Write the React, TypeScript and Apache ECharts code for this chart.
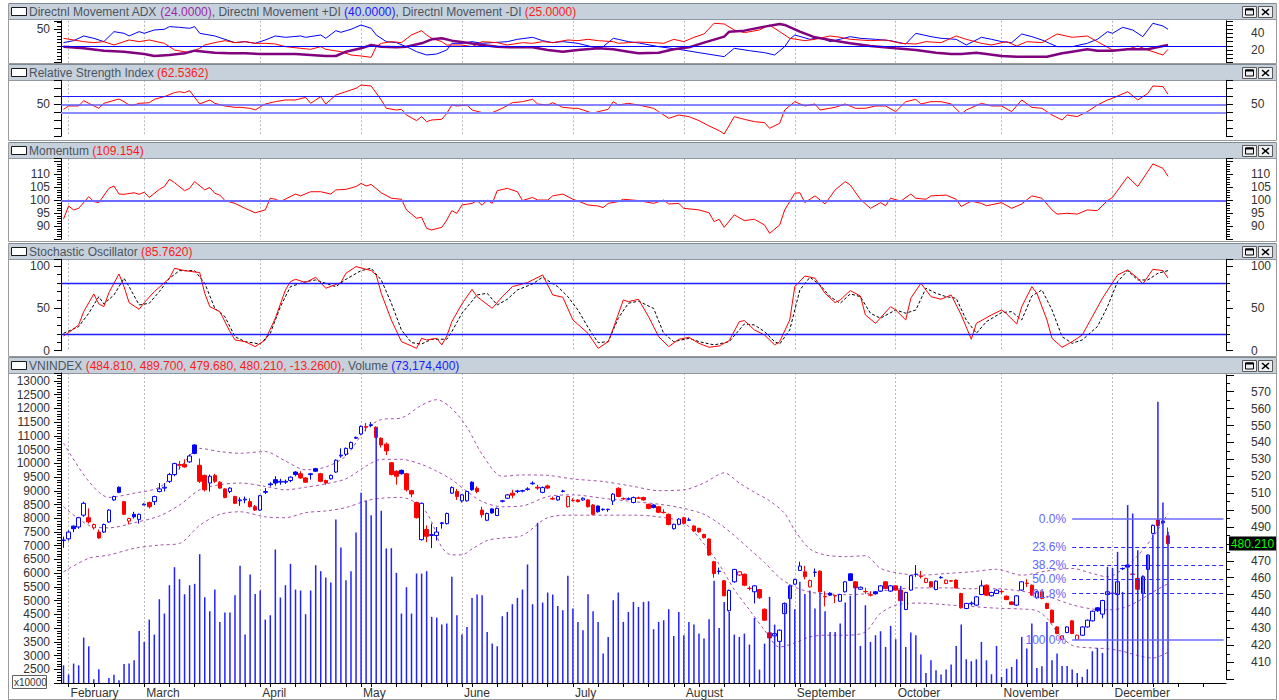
import React, { useEffect, useRef } from 'react';
import * as echarts from 'echarts';

const FONT = 'Liberation Sans, Arial, sans-serif';
const BLUE = '#0000ff';
const RED = '#ff0000';

const monthNames = ['January', 'February', 'March', 'April', 'May', 'June', 'July', 'August', 'September', 'October', 'November', 'December'];
const monthDays = [1, 15, 23, 20, 20, 22, 22, 22, 20, 21, 22, 12];
const padDays = 11;

const opens = [482, 483, 490.5, 490, 497, 495.5, 489.5, 487, 487, 493,
  506, 513.5, 505, 493.5, 497.5, 494.5, 503, 504.5, 505, 511,
  513, 517, 521, 527, 527, 528.5, 538.5, 526.5, 520.5, 516,
  520.5, 516.5, 512.5, 511, 508, 505.5, 506, 505, 502, 500,
  510.5, 515, 518, 516.5, 516.5, 517.5, 522.5, 521.5, 519, 521,
  524.5, 521.5, 517.5, 518.5, 522.5, 532, 533, 536.5, 542.5, 545,
  549.5, 550, 549, 542.5, 539, 528, 523, 523.5, 521.5, 511.5,
  504.5, 482.5, 488.5, 485, 485, 492, 492, 510, 511, 505.5,
  505.5, 516.5, 512.9, 500, 494, 500.7, 496.8, 505.2, 507, 510,
  511, 511.2, 512.2, 515.6, 513.5, 510.5, 514.3, 506.8, 506, 511,
  502, 505.8, 506, 506, 506, 503, 502.4, 500.5, 500.3, 505.4,
  512.9, 506.8, 506.5, 504.5, 507.2, 507.4, 503.4, 503, 502, 498.7,
  497.5, 489, 491.6, 495.5, 494, 490.6, 489.2, 485.6, 482.9, 469.5,
  463.7, 458.2, 440.5, 457.6, 461.6, 462.1, 453.8, 451.7, 453, 441.4,
  427.4, 425.6, 422.4, 438.8, 447.7, 456.2, 464.3, 463.5, 454.6, 463.2,
  463.9, 448.9, 450.9, 449.5, 446.1, 451.7, 462.3, 457.6, 453.2, 451.9,
  449.9, 451.7, 452.1, 457.6, 452.1, 455.2, 452.7, 441.2, 452.7, 462,
  461, 457.2, 457.6, 453, 460, 456.6, 458.2, 458.6, 450.7, 441.8,
  444.6, 443.8, 450.1, 455.6, 449.3, 450.7, 451.9, 449.1, 445.7, 443.8,
  452.7, 456.8, 455.6, 448.1, 451.7, 444.8, 440.8, 430.9, 423.6, 427.6,
  434.5, 423.4, 426, 430.9, 434.5, 442.2, 438.5, 450.1, 450.9, 450.1,
  465.3, 467.5, 462.2, 459.6, 450.7, 464.9, 486.2, 494.2, 492.5, 484.81];

const closes = [482.3, 487, 489, 495.5, 504, 493, 491.5, 483.5, 491.5, 500,
  508, 510.5, 497.5, 495, 496, 497.5, 503.5, 502, 508, 512.5,
  513.5, 521, 527.5, 526.5, 525.5, 532, 533.5, 517, 512, 520,
  517, 513, 507.5, 513, 504, 506, 506.5, 502, 500, 508.5,
  511, 515.5, 516, 517, 517, 519.5, 521, 519, 516.5, 521.5,
  523, 517, 516, 520.5, 529.5, 532.5, 536.5, 540, 543, 549.5,
  549, 550.5, 543, 538.5, 535, 521, 520, 521.5, 512, 509.5,
  495.5, 504, 484.5, 485.5, 487, 492.5, 498, 513.3, 508, 509,
  511, 512, 511, 497.2, 498, 498.3, 501, 505.5, 509, 508.8,
  511.3, 511.5, 512.5, 515.9, 513, 513.3, 513, 506.5, 508, 511.3,
  508, 505.6, 505, 507, 502, 497.5, 499, 500.3, 500.5, 509.4,
  508, 506.6, 506.6, 507.4, 507, 506, 501, 501.5, 498.7, 498.5,
  491.5, 491.6, 494.7, 492.2, 494.2, 487.6, 487.2, 483.7, 473.4, 462.5,
  463.9, 449.3, 452.5, 464.9, 463.5, 455.6, 453.6, 455.2, 448.1, 434.9,
  424.4, 427, 429, 444.8, 455.2, 459, 466.9, 460.6, 458.4, 463.3,
  451.7, 448.7, 449.7, 449.3, 450.1, 457.6, 458.4, 454, 454.4, 451.7,
  449.7, 450.5, 455.2, 453.6, 455.2, 452.7, 446.4, 451.3, 461.2, 462.1,
  460.8, 459.6, 454.6, 458, 460.2, 458.6, 458, 454, 442.2, 444.8,
  445, 448.7, 455.2, 449.7, 451.3, 452.7, 451.7, 447.1, 444.2, 449.3,
  457.6, 456.6, 449.7, 451.7, 447.7, 441.8, 433.5, 427, 425.6, 430.9,
  427, 426, 430.9, 434.9, 440.2, 440.5, 446.5, 451.7, 450.7, 457.6,
  465.5, 466.3, 462, 453.2, 460.6, 473.4, 491, 490.8, 493.47, 480.21];

const lows = [477.7, 482, 487, 489, 496, 492, 488.5, 483, 486.5, 492.5,
  505.5, 510, 497, 491.5, 495, 492, 503, 501, 503, 510.5,
  511, 516, 520, 524, 525, 528, 533, 516, 511, 511,
  516, 512.5, 507, 510, 503.5, 502.5, 504, 501.5, 499.5, 499.5,
  509.5, 514, 514.5, 515, 515.5, 516.5, 520, 518.5, 516, 518,
  522.5, 516.5, 515, 518, 522, 531, 532, 536, 542, 544.5,
  546.5, 549, 542.5, 537, 532.5, 520.5, 515, 521, 511, 507.5,
  495, 482, 481, 477.5, 482, 489, 491.5, 509.5, 506, 504.5,
  505, 511.5, 510, 495.5, 493.5, 498, 496.5, 504.5, 506.5, 507,
  510, 510.5, 511.5, 515, 512, 510, 512.5, 506, 505.5, 510.5,
  501.5, 505, 504.5, 505.5, 501.5, 497, 498.5, 499.5, 499, 503,
  507.5, 506, 506, 504, 506.5, 505.5, 500.5, 501, 498.2, 498,
  491, 488.5, 491, 491.5, 493.5, 487, 486.5, 483.2, 473, 460,
  462, 449, 440, 457, 461, 455, 452.5, 444.8, 447.5, 434.5,
  423.8, 425, 422, 438.3, 447.2, 455.8, 464, 459, 454.2, 460.5,
  451.3, 443, 449.3, 445, 445.7, 451.3, 458, 453.6, 452.8, 450.5,
  449, 450, 451.7, 453.2, 451.7, 452.3, 446, 440.8, 452.3, 460.5,
  459.5, 456.8, 454.2, 452.6, 459.5, 456.2, 457.5, 453.6, 441.8, 441.4,
  443.5, 443.4, 449.7, 449.3, 448.9, 450.3, 450.5, 446.7, 443.8, 443.4,
  452.3, 454.5, 449.3, 447.7, 447.3, 441.4, 433.1, 426.6, 423.4, 427.2,
  426.6, 423.2, 425.6, 430.5, 434.1, 439.8, 436, 449.7, 449, 449.7,
  464.5, 465.9, 461.5, 452.8, 450.3, 464.5, 485.8, 490, 492, 479.68];

const highs = [484.3, 488, 491, 496, 505, 501, 492, 488.5, 492, 500.5,
  508.5, 514, 505.5, 495.5, 499, 498, 504, 505, 508.5, 516,
  516, 522, 528, 529, 530, 533, 539, 530.5, 521, 521,
  521.5, 517, 513, 513.5, 508.5, 507.5, 508, 507, 503, 509,
  513, 516.5, 520, 518.5, 518, 520, 523, 523, 519.5, 522,
  525, 522, 518, 521, 530, 536.5, 537, 540.5, 543.5, 550,
  551.5, 552, 549.5, 543, 540, 528.5, 523.5, 524, 522, 512,
  505, 504.5, 491, 492, 490, 493, 498.5, 514, 512.5, 509.5,
  511.5, 517, 514, 502, 498.5, 501, 501.5, 505.8, 509.5, 512,
  512, 512, 513.5, 517, 515, 514, 515, 508, 508.5, 512,
  508.5, 507, 506.5, 507.5, 506.5, 503.5, 502.8, 501, 500.8, 510,
  513.5, 507.5, 507.5, 508, 508, 508, 503.8, 503.5, 502.5, 500.5,
  498, 492, 495.2, 496, 495.5, 491, 489.6, 486, 483.3, 470,
  466, 458.6, 453, 465.3, 464, 462.5, 455, 455.6, 453.4, 441.8,
  427.8, 427.4, 429.4, 445.2, 455.6, 459.4, 469.5, 467, 458.8, 465.5,
  464.3, 452, 451.3, 450, 450.5, 458, 462.7, 458, 454.8, 454,
  452, 452, 455.6, 458, 455.6, 455.6, 453.1, 451.7, 461.6, 467.5,
  464, 460, 458, 458.4, 461, 459, 458.5, 459, 451.1, 445.2,
  446, 449.1, 458.5, 456, 451.7, 453.1, 453, 449.5, 446.1, 449.7,
  458, 459.2, 456, 452.1, 452.1, 445.2, 441.2, 431.3, 426, 431.3,
  434.9, 426.4, 431.3, 435.3, 440.6, 442.6, 447, 452.1, 452.5, 458,
  466, 467.9, 462.5, 460, 461, 473.8, 491.4, 494.8, 494.8, 489.7];

// volume in units of 10,000 shares
const volumes = [2646, 2306, 2706, 2646, 3654, 3338, 2135, 2500, 1950, 2184,
  2305, 2099, 2694, 2706, 2828, 3897, 3496, 4310, 3764, 5052,
  4529, 5562, 6218, 5781, 5234, 5562, 5611, 6692, 5125, 4614,
  5404, 4226, 4566, 4566, 5198, 6267, 3764, 5951, 5246, 5368,
  4310, 4468, 6862, 5113, 5562, 6340, 5404, 5368, 4505, 5368,
  6291, 6073, 5842, 5660, 7956, 6935, 5744, 6073, 7482, 8928,
  8637, 8114, 11300, 8272, 6899, 6910, 6012, 4529, 5489, 4529,
  5988, 5987, 6072, 4408, 4383, 4128, 4165, 5866, 4469, 3764,
  4043, 5100, 5222, 5198, 3861, 3436, 3338, 4432, 4590, 4870,
  5100, 5404, 6316, 4870, 7834, 4930, 5295, 5222, 4809, 4651,
  5902, 4712, 4225, 3922, 5234, 4614, 4225, 3071, 3679, 5015,
  5295, 4225, 4590, 4954, 4772, 4954, 4979, 3958, 4225, 4286,
  4687, 3715, 4590, 3740, 4225, 4128, 3800, 3618, 4323, 5720,
  4007, 4954, 4590, 3764, 3679, 3800, 3399, 4371, 2488, 3436,
  5137, 4128, 3496, 4930, 5587, 4687, 5684, 5246, 5368, 4712,
  5295, 4614, 3861, 3861, 4165, 4930, 5173, 5538, 3351, 4833,
  3496, 3740, 3885, 3314, 4080, 3594, 5538, 3314, 3837, 3740,
  3035, 2366, 2828, 2463, 2306, 2488, 2670, 3351, 4128, 2864,
  2792, 2864, 3496, 2828, 2318, 3351, 2221, 2524, 2585, 2864,
  3679, 3253, 4165, 2549, 2609, 4226, 2828, 3071, 2621, 2621,
  2488, 2366, 2221, 2500, 3156, 3278, 3096, 6231, 6194, 6777,
  5320, 8479, 8175, 6838, 5927, 6656, 7409, 12246, 8576, 7507];

const bbUpper = [[0, 539.6], [5, 517], [9, 507.5], [14, 510], [19, 513.5], [23, 524.8], [27, 536.5], [31, 534.6], [35, 533.6], [40, 534.6], [44, 529], [48, 523.8], [52, 525.5], [56, 532], [60, 548], [63, 553.5], [67, 554.5], [71, 562], [74, 565.3], [77, 560], [80, 549], [83, 533], [87, 520], [91, 520.8], [96, 520.5], [101, 518.4], [107, 516.9], [113, 514], [118, 511.5], [123, 512], [127, 516], [131, 522], [134, 516], [137, 510.5], [140, 505.5], [143, 498], [145, 488], [148, 477], [151, 473.5], [155, 472.5], [159, 473], [162, 465.5], [166, 462.5], [170, 461.5], [175, 462.5], [180, 463.5], [185, 465], [190, 461.5], [195, 464], [200, 465.5], [204, 462.5], [207, 460.5], [210, 465], [213, 473], [216, 484], [219, 498]];
const bbMiddle = [[0, 502], [5, 491], [9, 489.5], [14, 492.5], [19, 496.5], [23, 503], [27, 512], [31, 515], [35, 516], [40, 514], [44, 512], [48, 513.5], [52, 515.5], [56, 518.5], [60, 526], [63, 530], [67, 530], [71, 527], [74, 523], [77, 518], [80, 511], [83, 505], [87, 502], [91, 502.5], [96, 508], [101, 509], [107, 507], [113, 505], [118, 503.5], [123, 501], [127, 497.5], [130, 492], [133, 485], [136, 477], [139, 469], [142, 460], [145, 454.5], [148, 451.5], [151, 450.5], [155, 450], [159, 450.5], [162, 452], [166, 453.5], [170, 454], [175, 454], [180, 453.5], [185, 453.5], [190, 452], [195, 449], [200, 444], [204, 441.5], [207, 441], [210, 442], [213, 446], [216, 451.5], [219, 456.5]];
const bbLower = [[0, 463.5], [5, 471.5], [9, 473.4], [14, 477.4], [19, 479.3], [23, 480.3], [27, 491], [31, 497.5], [35, 499], [40, 496], [44, 495.5], [48, 498.5], [52, 499.5], [56, 501.5], [60, 505.5], [63, 507], [67, 507.5], [71, 502], [73, 493], [75, 478], [77, 473.5], [79, 473.5], [81, 477], [84, 482], [87, 483.5], [91, 485], [96, 495.5], [101, 497], [107, 497], [113, 497], [118, 496], [123, 492.5], [127, 480], [130, 468], [133, 453], [136, 441], [139, 429], [142, 419], [145, 421.5], [148, 425], [151, 426], [155, 426], [159, 428], [162, 439], [166, 444.5], [170, 445], [175, 444], [180, 443], [185, 442], [190, 441.5], [193, 440.5], [195, 436], [197, 428], [200, 420], [204, 418.5], [207, 418], [210, 416.5], [213, 414], [216, 412.5], [219, 416]];

const fibLabels = ['0.0%', '23.6%', '38.2%', '50.0%', '61.8%', '100.0%'];
const fibPrices = [494.8, 477.9, 467.4, 459.0, 450.6, 423.2];
const fibStart = 200;

const plusDI = [[0, 28.8], [2, 31.2], [4, 36.8], [6, 34], [8, 30], [10, 42], [12, 40], [13, 36.8], [15, 42], [16, 40], [18, 44], [20, 44.8], [21, 48], [23, 47.2], [25, 46], [26, 48], [27, 40], [30, 36.8], [32, 32.8], [34, 28.8], [36, 30], [38, 28], [40, 32], [42, 36.8], [44, 35.2], [47, 36.8], [48, 35.2], [51, 38], [52, 34], [54, 43.2], [55, 41.2], [57, 44.8], [59, 50], [61, 46], [62, 38], [64, 30], [66, 28.8], [68, 24], [70, 18], [72, 14], [74, 15.2], [76, 20], [77, 28], [79, 28], [81, 30], [83, 28], [85, 28.8], [88, 30], [90, 32.8], [93, 35.2], [95, 31.2], [97, 28.8], [99, 30], [102, 28], [106, 22], [107, 24], [109, 34], [110, 32.8], [112, 30], [114, 28.5], [118, 24], [122, 20.8], [126, 16.8], [131, 12], [133, 22], [136, 19.2], [139, 16.8], [141, 14], [143, 24], [144, 32.8], [145, 38], [148, 32.8], [150, 35.2], [152, 30], [156, 36], [158, 34], [161, 32.8], [164, 31.2], [167, 27.2], [169, 40], [172, 36], [174, 34], [177, 32.8], [179, 26], [182, 35.2], [184, 32.8], [186, 30], [188, 28.8], [190, 39.2], [192, 36], [194, 32], [197, 24], [200, 24], [203, 28], [205, 32.8], [207, 42], [208, 40], [210, 47.2], [212, 44], [214, 36], [216, 52], [218, 48.8], [219, 44.8]];
const minusDI = [[0, 34], [2, 32], [4, 30], [6, 28.8], [8, 30], [10, 26], [12, 30], [13, 32], [15, 30], [17, 32], [20, 28], [22, 20], [25, 16.8], [27, 22], [28, 26], [30, 28.8], [32, 31.2], [34, 28.8], [36, 30], [38, 28], [40, 28], [42, 27.2], [44, 24], [47, 22], [49, 20.8], [51, 24], [52, 20.8], [55, 18], [57, 14], [59, 12.8], [61, 11.2], [62, 24], [63, 28], [65, 30], [67, 28.8], [69, 38], [71, 43.2], [72, 38], [73, 34], [75, 30], [76, 26], [79, 26], [81, 24], [83, 30], [86, 28.8], [88, 26], [91, 28.8], [93, 28], [95, 30], [97, 28.8], [100, 32], [102, 31.2], [104, 32.8], [106, 31.2], [109, 30], [110, 28], [112, 28.8], [114, 29.5], [117, 28.8], [119, 28], [121, 32.8], [123, 30], [125, 35.2], [127, 39.2], [129, 52], [131, 51.2], [133, 44], [135, 40.8], [138, 44], [140, 50], [142, 42], [144, 34], [147, 31.2], [149, 32.8], [152, 36.8], [154, 35.2], [156, 32.8], [160, 31.2], [163, 32], [166, 28], [169, 27.2], [171, 30], [174, 28.8], [177, 36.8], [179, 32.8], [182, 28], [184, 26], [187, 30], [189, 24.8], [191, 30], [194, 28.8], [197, 39.2], [200, 35.2], [203, 36.8], [205, 30], [208, 20], [211, 20.8], [213, 24.8], [215, 20], [218, 14], [219, 20.8]];
const adxLine = [[0, 24], [4, 22], [8, 19.2], [12, 18], [16, 15.2], [18, 12.8], [21, 14], [24, 16], [26, 19.2], [30, 16.8], [33, 16], [36, 16], [39, 15.2], [42, 15.2], [46, 15.2], [49, 14], [52, 12.8], [54, 12.8], [56, 18], [59, 22], [61, 26], [63, 24], [66, 23.2], [68, 24], [71, 28], [73, 32.8], [75, 34], [77, 31.2], [80, 28.8], [83, 26], [86, 24], [89, 23.2], [93, 23.2], [96, 20], [99, 18], [102, 20], [106, 22], [109, 20.8], [112, 18], [114, 16], [118, 16.8], [121, 20.8], [124, 23.2], [127, 28.8], [131, 36], [132, 42], [135, 43.2], [139, 48], [142, 51.2], [143, 50], [146, 42], [149, 35.2], [152, 32], [156, 28], [160, 24.8], [165, 22], [169, 20], [173, 16.8], [176, 15.2], [178, 15.2], [181, 16.8], [183, 15.2], [186, 12.8], [189, 12], [192, 12], [195, 12], [198, 16], [200, 18], [203, 20.8], [205, 19.2], [208, 19.2], [211, 20.8], [215, 20.8], [218, 24.8], [219, 26]];

const rsi = [[0, 43.7], [1, 47.9], [3, 47.9], [4, 54.6], [5, 51.2], [7, 45], [8, 51.2], [11, 56.6], [12, 53.3], [13, 49.1], [14, 49.1], [15, 51.2], [17, 52], [18, 56.2], [20, 59.6], [22, 64.6], [23, 65.8], [24, 64.6], [25, 67.1], [27, 50.4], [29, 55.4], [30, 51.2], [32, 47.9], [34, 46.2], [35, 46.2], [37, 45], [38, 42.9], [40, 50.4], [42, 53.3], [44, 55.4], [46, 55.4], [48, 58.7], [49, 51.2], [51, 59.6], [52, 50.4], [54, 61.6], [56, 65.8], [58, 70], [59, 74.1], [61, 72.9], [63, 55.4], [64, 45], [66, 42.9], [67, 43.7], [68, 36.6], [70, 29.6], [71, 34.6], [72, 28.3], [73, 30.4], [75, 31.2], [76, 38.7], [77, 49.1], [78, 47.9], [80, 49.1], [81, 42.9], [83, 39.6], [85, 39.6], [87, 45], [89, 52], [91, 53.3], [93, 56.2], [94, 50.4], [96, 49.1], [97, 52], [99, 46.2], [101, 45], [102, 45], [105, 38.7], [106, 40.8], [108, 43.7], [109, 53.3], [110, 49.1], [112, 51.2], [114, 49.1], [117, 45], [118, 40.8], [120, 32.5], [122, 36.6], [124, 34.6], [126, 29.6], [128, 22.9], [130, 17.1], [131, 12.9], [133, 34.6], [135, 31.2], [137, 28.3], [139, 27.1], [140, 20], [142, 26.2], [143, 42.9], [145, 53.3], [147, 47.9], [149, 50.4], [150, 42.9], [153, 46.2], [155, 50.4], [157, 45], [159, 45], [161, 47.9], [163, 47.9], [165, 40.8], [167, 53.3], [169, 56.2], [170, 50.4], [172, 53.3], [174, 53.3], [176, 50.4], [178, 37.9], [179, 42.9], [182, 51.2], [184, 47.9], [186, 47.9], [188, 40.8], [190, 55.4], [192, 46.2], [194, 45], [196, 36.6], [198, 30.4], [199, 36.6], [201, 34.6], [203, 40.8], [205, 49.1], [207, 55.4], [208, 57.5], [211, 65.8], [213, 55.4], [215, 63.7], [216, 72.9], [218, 72.1], [219, 62.5]];

const momentum = [[0, 92.8], [1, 97.8], [2, 96.3], [3, 96.9], [5, 101.4], [6, 99.5], [7, 99.1], [9, 104.6], [10, 105.5], [11, 102.4], [12, 102.3], [14, 102.9], [15, 102.3], [16, 103.1], [17, 101.1], [19, 104.2], [20, 105.3], [21, 108.1], [22, 106.8], [24, 103.7], [25, 104.6], [26, 107.2], [28, 104], [29, 104.9], [30, 102.7], [31, 102], [32, 99.9], [34, 98.8], [36, 96.9], [38, 95.2], [40, 96.3], [41, 100.8], [42, 100.4], [43, 99.5], [46, 102.4], [47, 101.7], [49, 103.3], [51, 103.3], [53, 102.4], [54, 104], [56, 104.2], [58, 105.3], [59, 106.5], [60, 105.5], [61, 106.1], [63, 102.9], [65, 100.8], [67, 100.4], [68, 96.3], [70, 93.1], [71, 93.5], [72, 89.2], [73, 88.6], [75, 89.6], [76, 92.4], [77, 96], [78, 95], [79, 98.2], [81, 98.8], [82, 99.9], [83, 98.1], [84, 100.1], [85, 98.8], [86, 103.7], [88, 104.6], [90, 103.3], [91, 99.9], [93, 101.1], [94, 100.1], [96, 100.1], [97, 101.7], [99, 102.4], [101, 100.4], [102, 99.7], [104, 98.2], [106, 97.8], [107, 97.2], [108, 98.8], [110, 99.5], [111, 100.4], [114, 99.9], [117, 98.8], [119, 100.1], [120, 98.6], [122, 98.8], [123, 96.9], [126, 96.3], [128, 95.2], [129, 91.8], [130, 92.7], [131, 89.6], [133, 94.4], [135, 92.2], [137, 92.7], [139, 90.5], [140, 87.3], [142, 90.5], [143, 96.3], [145, 102.7], [146, 102.9], [147, 99.1], [149, 101.7], [151, 98.6], [153, 104], [155, 107.2], [156, 105.9], [158, 100.4], [160, 96.9], [162, 99.1], [163, 97.9], [164, 100.8], [166, 99.7], [168, 102.4], [169, 100.8], [171, 100.4], [172, 101.7], [175, 102], [177, 100.4], [178, 97.6], [180, 99.7], [182, 98.8], [183, 97.9], [186, 99.1], [188, 96.9], [190, 98.6], [192, 101.7], [194, 100.8], [196, 96.3], [197, 94.7], [199, 95], [201, 94.7], [203, 96.3], [205, 96], [207, 99.9], [208, 101.1], [211, 109.1], [213, 105.3], [216, 114], [218, 112.3], [219, 109.2]];

const stochK = [[0, 17.4], [1, 21.3], [3, 30.4], [4, 46.1], [6, 67], [7, 55.2], [8, 52], [9, 68.5], [11, 90.6], [12, 75.6], [13, 56.7], [15, 48.9], [16, 56.7], [18, 69.7], [21, 85.5], [22, 97.3], [24, 94.5], [27, 92.2], [28, 67.8], [29, 52], [31, 46.1], [33, 22.5], [34, 12.7], [36, 10.7], [38, 4.8], [40, 12.7], [42, 38.3], [44, 71.7], [45, 81.5], [46, 84.3], [48, 80.4], [50, 86.7], [52, 73.7], [55, 80.4], [56, 91.4], [58, 99.3], [61, 94.5], [62, 89.4], [63, 67.8], [65, 36.3], [67, 10.7], [69, 5.6], [70, 2.8], [71, 14.6], [72, 12.7], [74, 14.6], [75, 6.8], [76, 17.4], [77, 34.3], [79, 55.2], [81, 72.5], [82, 63.8], [85, 50], [87, 63.8], [89, 75.6], [92, 80.4], [95, 89.4], [97, 65.8], [99, 63.1], [101, 36.3], [104, 20.5], [106, 2.8], [108, 10.7], [109, 26.4], [111, 59.9], [112, 57.9], [114, 60.7], [116, 40.2], [118, 16.6], [120, 4.8], [122, 13.5], [124, 15.8], [126, 8.7], [128, 4], [130, 5.6], [132, 11.9], [134, 34.3], [135, 35.5], [137, 24.5], [139, 18.6], [141, 6.8], [142, 10.7], [144, 36.3], [145, 75.6], [147, 88.2], [149, 85.5], [151, 67.8], [153, 56.7], [154, 59.9], [156, 70.9], [158, 64.6], [159, 42.2], [161, 32.3], [164, 52], [165, 48.1], [167, 36.3], [168, 61.9], [170, 79.6], [172, 63.8], [174, 60.7], [176, 65.8], [178, 42.2], [180, 13.5], [181, 32.3], [184, 42.2], [186, 48.1], [187, 43.4], [189, 31.6], [190, 52], [192, 75.6], [193, 67.8], [195, 36.3], [196, 14.6], [198, 4], [200, 10.7], [202, 18.6], [204, 40.2], [206, 61.9], [209, 89.4], [211, 95.3], [213, 85.5], [214, 78.8], [216, 96.1], [218, 94.5], [219, 85.8]];
const stochD = [[0, 20.5], [3, 28.4], [5, 44.2], [7, 63.8], [8, 55.2], [10, 65.8], [12, 85.5], [13, 75.6], [15, 54], [17, 56], [19, 69.7], [21, 85.5], [23, 94.5], [26, 94.5], [28, 79.6], [30, 50], [32, 40.2], [34, 16.6], [36, 10.7], [39, 7.9], [41, 20.5], [43, 52], [45, 75.6], [48, 81.5], [50, 83.5], [51, 81.5], [54, 75.6], [56, 84.3], [59, 94.5], [61, 97.3], [63, 83.5], [65, 56], [67, 24.5], [69, 9.5], [71, 7.9], [73, 13.5], [76, 13.5], [77, 22.5], [79, 44.2], [82, 65.8], [84, 67.8], [86, 54], [88, 60.7], [90, 71.7], [93, 78.8], [95, 86.7], [98, 75.6], [100, 63.8], [102, 48.1], [104, 27.6], [106, 9.5], [108, 10.7], [110, 38.3], [112, 56], [114, 58.5], [117, 50], [119, 20.5], [121, 10.7], [124, 14.6], [126, 10.7], [129, 6.8], [132, 10.7], [135, 31.6], [137, 30.4], [139, 22.5], [141, 10.7], [142, 7.9], [144, 24.5], [146, 71.7], [148, 86.7], [150, 77.6], [152, 63.8], [154, 56], [156, 67], [158, 63.8], [160, 44.2], [162, 38.3], [165, 48.1], [167, 44.2], [169, 48.1], [171, 73.7], [173, 67.8], [175, 63.8], [177, 61.9], [179, 36.3], [181, 20.5], [183, 34.3], [186, 45], [188, 46.1], [190, 36.3], [192, 64.6], [194, 71.7], [196, 48.1], [198, 16.6], [200, 8.7], [202, 12.7], [205, 28.4], [207, 52], [209, 81.5], [211, 94.5], [213, 83.5], [215, 83.5], [217, 91.4], [219, 94.5]];
const stochLevels = [80, 20];

const titleADX = { name: 'Directnl Movement', adx: '(24.0000)', pdi: '(40.0000)', mdi: '(25.0000)' };
const titleRSI = '(62.5362)';
const titleMom = '(109.154)';
const titleSto = '(85.7620)';
const titleMain = { ohlc: '(484.810, 489.700, 479.680, 480.210, -13.2600)', vol: '(73,174,400)' };

// ---------- derived (layout helpers) ----------
const categories: string[] = [];
const monthStart = new Set<number>();
monthNames.forEach((m, mi) => {
  for (let d = 0; d < monthDays[mi]; d++) {
    if (d === 0 && mi > 0) monthStart.add(categories.length);
    categories.push(m + '-' + (d + 1));
  }
});
for (let p = 0; p < padDays; p++) categories.push('pad-' + p);
const weekTicks = new Set<number>();
categories.forEach((_, i) => { if (i % 5 === 1 || monthStart.has(i)) weekTicks.add(i); });

const GL = 61;
const GW = 1165;

function App() {
  const ref = useRef<HTMLDivElement>(null);
  useEffect(() => {
    const chart = echarts.init(ref.current!, undefined, { renderer: 'svg' });

    const mkX = (gridIndex: number, main: boolean, split: boolean) => ({
      type: 'category', gridIndex, data: categories, boundaryGap: true,
      axisLine: { show: main, onZero: false, lineStyle: { color: '#000', width: 1 } },
      axisTick: main ? { show: true, alignWithLabel: true, length: 4, interval: (i: number) => weekTicks.has(i), lineStyle: { color: '#000' } } : { show: false },
      axisLabel: main ? {
        show: true, interval: (i: number) => monthStart.has(i), align: 'left', margin: 4, padding: [0, 0, 0, 2],
        formatter: (v: string) => v.split('-')[0], color: '#333', fontSize: 12, fontFamily: FONT,
      } : { show: false },
      splitLine: split ? { show: true, alignWithLabel: true, interval: (i: number) => monthStart.has(i), lineStyle: { color: '#b8b8b8', type: [2, 2], width: 1 } } : { show: false },
    });

    const mkY = (gridIndex: number, position: string, min: number, max: number, interval: number, labels: number[], minor: number, tickLen = 7) => ({
      type: 'value', gridIndex, position, min, max, interval,
      axisLine: { show: true, onZero: false, lineStyle: { color: '#000', width: 1 } },
      axisTick: { show: true, length: tickLen, lineStyle: { color: '#000' } },
      minorTick: { show: minor > 0, splitNumber: minor || 5, length: 4, lineStyle: { color: '#000' } },
      splitLine: { show: false },
      axisLabel: {
        show: true, color: '#333', fontSize: 12, fontFamily: FONT, margin: position === 'left' ? 11 : 25,
        formatter: (v: number) => (labels.some((l) => Math.abs(l - v) < 1e-6) ? String(v) : ''),
      },
    });

    const range = (a: number, b: number, s: number) => { const r: number[] = []; for (let v = a; v <= b; v += s) r.push(v); return r; };
    const last = closes[closes.length - 1];

    const candleData = closes.map((c, i) => {
      const o = opens[i];
      const up = i === 0 ? true : c >= closes[i - 1];
      const col = up ? BLUE : RED;
      const fill = c > o ? '#ffffff' : col;
      return { value: [o, c, lows[i], highs[i]], itemStyle: { color: fill, color0: fill, borderColor: col, borderColor0: col, borderColorDoji: col } };
    });

    const hLine = (v: number, color: string, width: number) => ({ yAxis: v, lineStyle: { color, width, type: 'solid' } });
    const mk = (lines: any[], color: string) => ({ silent: true, symbol: ['none', 'none'], label: { show: false }, lineStyle: { color, type: 'solid' }, emphasis: { disabled: true }, data: lines });

    const fibData = fibPrices.map((p, k) => {
      const solid = k === 0 || k === fibPrices.length - 1;
      return [
        {
          coord: [categories[fibStart], p],
          lineStyle: solid ? { color: '#6b6bff', width: 1.5, type: 'solid' } : { color: '#2a2aff', width: 1, type: [4, 3] },
          label: { show: true, position: 'start', distance: 6, formatter: fibLabels[k], color: '#6464ff', fontSize: 12, fontFamily: FONT },
        },
        { coord: [categories[categories.length - 1], p] },
      ];
    });

    const priceLabels = range(410, 570, 10).filter((v) => Math.abs(v - last) > 5);

    const option: any = {
      animation: false,
      backgroundColor: '#ffffff',
      textStyle: { fontFamily: FONT },
      grid: [
        { left: GL, width: GW, top: 20.8, height: 41.7 },
        { left: GL, width: GW, top: 80.3, height: 56 },
        { left: GL, width: GW, top: 158.7, height: 80.6 },
        { left: GL, width: GW, top: 259.2, height: 91.5 },
        { left: GL, width: GW, top: 373, height: 310 },
        { left: GL, width: GW, top: 374.8, height: 304.4 },
      ],
      xAxis: [mkX(0, false, true), mkX(1, false, true), mkX(2, false, true), mkX(3, false, true), mkX(4, true, true), mkX(5, false, false)],
      yAxis: [
        mkY(0, 'right', 5, 55, 5, [20, 40], 0, 7),
        mkY(0, 'left', 0, 62.8, 50, [50], 10),
        mkY(1, 'left', 10, 80, 10, [50], 0),
        mkY(1, 'right', 10, 80, 10, [50], 0),
        mkY(2, 'left', 85, 116, 5, [90, 95, 100, 105, 110], 5),
        mkY(2, 'right', 85, 116, 5, [90, 95, 100, 105, 110], 5),
        mkY(3, 'left', 0, 108, 50, [0, 50, 100], 5),
        mkY(3, 'right', 0, 108, 50, [0, 50, 100], 5),
        mkY(4, 'left', 2000, 13291, 500, range(2500, 13000, 500), 5),
        mkY(5, 'right', 400, 580, 10, priceLabels, 2, 8),
      ],
      series: [
        { type: 'line', xAxisIndex: 0, yAxisIndex: 0, data: plusDI, symbol: 'none', lineStyle: { color: BLUE, width: 1 }, markLine: mk([hLine(25, '#0000ff', 1)], '#0000ff') },
        { type: 'line', xAxisIndex: 0, yAxisIndex: 0, data: minusDI, symbol: 'none', lineStyle: { color: RED, width: 1 } },
        { type: 'line', xAxisIndex: 0, yAxisIndex: 0, data: adxLine, symbol: 'none', lineStyle: { color: '#800080', width: 2.5 } },
        {
          type: 'line', xAxisIndex: 1, yAxisIndex: 2, data: rsi, symbol: 'none', lineStyle: { color: RED, width: 1 }, z: 3,
          markLine: mk([hLine(60, '#1a1aff', 1), hLine(50, '#5c5cff', 1.5), hLine(40, '#8c8cff', 2)], '#0000ff'),
        },
        { type: 'line', xAxisIndex: 2, yAxisIndex: 4, data: momentum, symbol: 'none', lineStyle: { color: RED, width: 1 }, z: 3, markLine: mk([hLine(100, '#6a6aff', 2)], '#6a6aff') },
        { type: 'line', xAxisIndex: 3, yAxisIndex: 6, data: stochD, symbol: 'none', lineStyle: { color: '#000', width: 1, type: [3, 2] } },
        { type: 'line', xAxisIndex: 3, yAxisIndex: 6, data: stochK, symbol: 'none', lineStyle: { color: RED, width: 1 }, z: 3 },
        { type: 'line', xAxisIndex: 5, yAxisIndex: 9, data: bbUpper, symbol: 'none', smooth: 0.3, lineStyle: { color: '#a452a8', width: 1, type: [3, 3] }, z: 1 },
        { type: 'line', xAxisIndex: 5, yAxisIndex: 9, data: bbMiddle, symbol: 'none', smooth: 0.3, lineStyle: { color: '#a452a8', width: 1, type: [3, 3] }, z: 1 },
        { type: 'line', xAxisIndex: 5, yAxisIndex: 9, data: bbLower, symbol: 'none', smooth: 0.3, lineStyle: { color: '#a452a8', width: 1, type: [3, 3] }, z: 1 },
        {
          type: 'candlestick', xAxisIndex: 5, yAxisIndex: 9, data: candleData, barWidth: 4, z: 2,
          itemStyle: { borderWidth: 1 },
          markLine: { silent: true, symbol: ['none', 'none'], data: fibData },
        },
        { type: 'bar', xAxisIndex: 4, yAxisIndex: 8, data: volumes, barWidth: 1.5, itemStyle: { color: '#2222ff' }, z: 3 },
      ],
    };
    chart.setOption(option);

    const panels = [
      { t: 3, b: 63 }, { t: 64, b: 140 }, { t: 142, b: 241 }, { t: 243, b: 356 }, { t: 357, b: 699 },
    ];
    const FS = 12;
    const richBase = {
      g: { fill: '#4b5560', fontSize: FS, fontFamily: FONT },
      r: { fill: '#ff1a1a', fontSize: FS, fontFamily: FONT },
      b: { fill: '#1a1aff', fontSize: FS, fontFamily: FONT },
      p: { fill: '#9a2aa8', fontSize: FS, fontFamily: FONT },
    };
    const titles = [
      `{g|${titleADX.name} ADX }{p|${titleADX.adx}}{g|, ${titleADX.name} +DI }{b|${titleADX.pdi}}{g|, ${titleADX.name} -DI }{r|${titleADX.mdi}}`,
      `{g|Relative Strength Index }{r|${titleRSI}}`,
      `{g|Momentum }{r|${titleMom}}`,
      `{g|Stochastic Oscillator }{r|${titleSto}}`,
      `{g|VNINDEX }{r|${titleMain.ohlc}}{g|, Volume }{b|${titleMain.vol}}`,
    ];
    const graphics: any[] = [];
    panels.forEach((pn, k) => {
      const t = pn.t;
      graphics.push({ type: 'rect', silent: true, z: -1, shape: { x: 8.5, y: t + 0.5, width: 1268, height: pn.b - t }, style: { fill: 'none', stroke: '#9a9a9a', lineWidth: 1 } });
      graphics.push({ type: 'rect', silent: true, shape: { x: 9, y: t + 1, width: 1267, height: 15 }, style: { fill: '#c7d1dc', stroke: 'none' } });
      graphics.push({ type: 'line', silent: true, shape: { x1: 9, y1: t + 0.5, x2: 1276, y2: t + 0.5 }, style: { stroke: '#7e8994', lineWidth: 1 } });
      graphics.push({ type: 'line', silent: true, shape: { x1: 9, y1: t + 16.5, x2: 1276, y2: t + 16.5 }, style: { stroke: '#8f98a2', lineWidth: 1 } });
      graphics.push({ type: 'rect', silent: true, shape: { x: 11.5, y: t + 4.5, width: 15, height: 8 }, style: { fill: '#ffffff', stroke: '#1a1a1a', lineWidth: 1 } });
      graphics.push({ type: 'text', silent: true, x: 29, y: t + 9, style: { text: titles[k], rich: richBase, fontSize: FS, fontFamily: FONT, verticalAlign: 'middle', fill: '#4b5560' } });
      graphics.push({ type: 'rect', silent: true, shape: { x: 1242.5, y: t + 3.5, width: 14, height: 11 }, style: { fill: '#eef0f3', stroke: '#5a5a5a', lineWidth: 1 } });
      graphics.push({ type: 'rect', silent: true, shape: { x: 1245.5, y: t + 6, width: 8, height: 6 }, style: { fill: 'none', stroke: '#000', lineWidth: 1 } });
      graphics.push({ type: 'line', silent: true, shape: { x1: 1245.5, y1: t + 6.5, x2: 1253.5, y2: t + 6.5 }, style: { stroke: '#000', lineWidth: 2 } });
      graphics.push({ type: 'rect', silent: true, shape: { x: 1258.5, y: t + 3.5, width: 14, height: 11 }, style: { fill: '#eef0f3', stroke: '#5a5a5a', lineWidth: 1 } });
      graphics.push({ type: 'line', silent: true, shape: { x1: 1262, y1: t + 6, x2: 1269, y2: t + 12 }, style: { stroke: '#000', lineWidth: 1.6 } });
      graphics.push({ type: 'line', silent: true, shape: { x1: 1269, y1: t + 6, x2: 1262, y2: t + 12 }, style: { stroke: '#000', lineWidth: 1.6 } });
    });
    // stochastic 80/20 reference lines (drawn on top)
    stochLevels.forEach((lv) => {
      const yy = Math.round(chart.convertToPixel({ yAxisIndex: 6 } as any, lv) as unknown as number) + 0.5;
      graphics.push({ type: 'line', silent: true, z: 100, zlevel: 0, shape: { x1: GL, y1: yy, x2: GL + GW, y2: yy }, style: { stroke: '#1e1eff', lineWidth: 1.5 } });
    });
    // x10000 unit box
    graphics.push({ type: 'rect', silent: true, shape: { x: 12.5, y: 675.5, width: 34, height: 13 }, style: { fill: '#ffffff', stroke: '#606060', lineWidth: 1 } });
    graphics.push({ type: 'text', silent: true, x: 14, y: 682, style: { text: 'x10000', fontSize: 10, fontFamily: FONT, fill: '#333', verticalAlign: 'middle' } });
    // last price tag
    const py = chart.convertToPixel({ yAxisIndex: 9 } as any, last) as unknown as number;
    graphics.push({ type: 'rect', silent: true, shape: { x: 1229, y: py - 7, width: 47, height: 14 }, style: { fill: '#000000' } });
    graphics.push({ type: 'text', silent: true, x: 1252.5, y: py, style: { text: last.toFixed(3), fontSize: 12, fontFamily: FONT, fill: '#00ff00', align: 'center', verticalAlign: 'middle' } });

    chart.setOption({ graphic: graphics });
    return () => chart.dispose();
  }, []);
  return <div ref={ref} style={{ position: 'fixed', left: 0, top: 0, width: 1279, height: 700, background: '#ffffff' }} />;
}

export default App;
